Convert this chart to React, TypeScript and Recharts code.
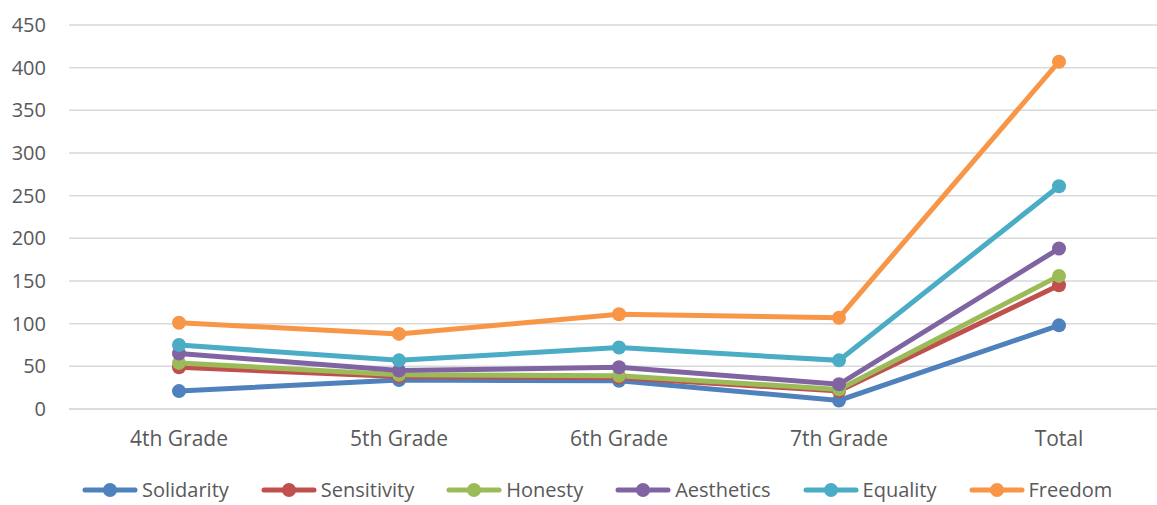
import React from "react";
import {
    LineChart,
    Line,
    XAxis,
    YAxis,
    CartesianGrid,
    Legend,
} from "recharts";

const grades = ["4th Grade", "5th Grade", "6th Grade", "7th Grade", "Total"];

const solidarity = [21, 34, 33, 10, 98];
const sensitivity = [49, 38, 37, 21, 145];
const honesty = [54, 40, 39, 23, 156];
const aesthetics = [65, 45, 49, 29, 188];
const equality = [75, 57, 72, 57, 261];
const freedom = [101, 88, 111, 107, 407];

const yTicks = [0, 50, 100, 150, 200, 250, 300, 350, 400, 450];

const series = [
    { key: "Solidarity", values: solidarity, color: "#4f81bd" },
    { key: "Sensitivity", values: sensitivity, color: "#c0504d" },
    { key: "Honesty", values: honesty, color: "#9bbb59" },
    { key: "Aesthetics", values: aesthetics, color: "#8064a2" },
    { key: "Equality", values: equality, color: "#4bacc6" },
    { key: "Freedom", values: freedom, color: "#f79646" },
];

const data = grades.map((g, i) => {
    const row: Record<string, string | number> = { grade: g };
    series.forEach((s) => {
        row[s.key] = s.values[i];
    });
    return row;
});

const FONT = "'Open Sans', sans-serif";

function LegendRow() {
    return (
        <div
            style={{
                display: "flex",
                justifyContent: "flex-start",
                gap: 32,
                fontFamily: FONT,
                fontSize: 20,
                lineHeight: "20px",
                color: "#595959",
                width: 1157,
                paddingTop: 21,
                paddingLeft: 82,
                boxSizing: "border-box",
            }}
        >
            {series.map((s) => (
                <div key={s.key} style={{ display: "flex", alignItems: "center", height: 20 }}>
                    <svg width={56} height={16}>
                        <line x1={3} y1={8} x2={53} y2={8} stroke={s.color} strokeWidth={5} strokeLinecap="round" />
                        <circle cx={28} cy={8} r={7} fill={s.color} />
                    </svg>
                    <span style={{ marginLeft: 4 }}>{s.key}</span>
                </div>
            ))}
        </div>
    );
}

export default function App() {
    return (
        <div
            style={{
                position: "fixed",
                left: 0,
                top: 0,
                width: 1157,
                height: 505,
                overflow: "hidden",
                background: "#fff",
            }}
        >
            <LineChart
                width={1175}
                height={505}
                data={data}
                margin={{ top: 25, right: 6, left: 0, bottom: 0 }}
            >
                <CartesianGrid vertical={false} stroke="#d9d9d9" strokeWidth={1.5} />
                <XAxis
                    dataKey="grade"
                    height={50}
                    padding={{ left: 110, right: 110 }}
                    axisLine={{ stroke: "#d9d9d9", strokeWidth: 1.5 }}
                    tickLine={false}
                    tickMargin={16}
                    tick={{ fill: "#595959", fontSize: 21, fontFamily: FONT }}
                />
                <YAxis
                    width={69}
                    domain={[0, 450]}
                    ticks={yTicks}
                    axisLine={false}
                    tickLine={false}
                    tickMargin={17}
                    tick={{ fill: "#595959", fontSize: 20, fontFamily: FONT }}
                />
                <Legend verticalAlign="bottom" height={46} content={() => <LegendRow />} wrapperStyle={{ left: 0 }} />
                {series.map((s) => (
                    <Line
                        key={s.key}
                        type="linear"
                        dataKey={s.key}
                        stroke={s.color}
                        strokeWidth={5}
                        dot={{ r: 7, fill: s.color, stroke: s.color, strokeWidth: 0 }}
                        activeDot={false}
                        isAnimationActive={false}
                    />
                ))}
            </LineChart>
        </div>
    );
}
